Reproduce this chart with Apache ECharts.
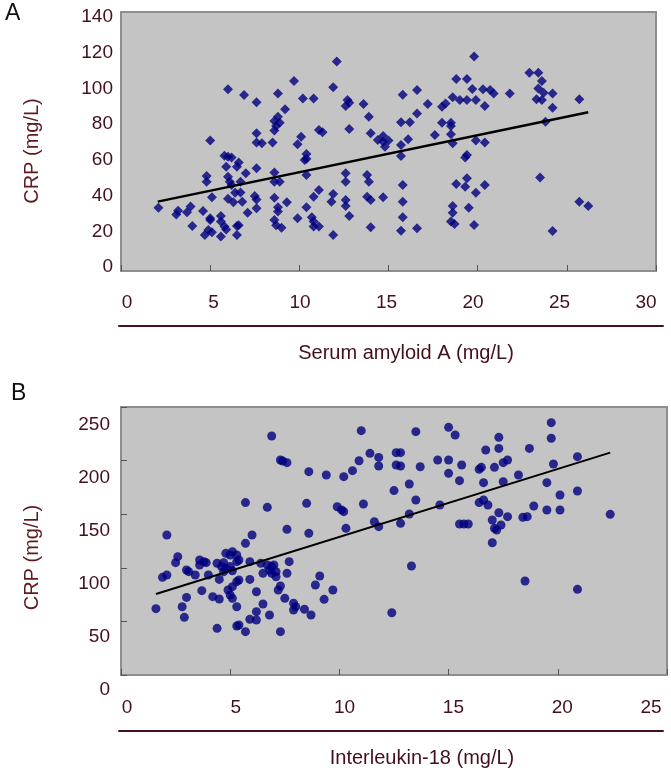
<!DOCTYPE html>
<html>
<head>
<meta charset="utf-8">
<script src="https://cdn.jsdelivr.net/npm/echarts@6/dist/echarts.min.js"></script>
<style>
html,body{margin:0;padding:0;background:#fff;}
#chart{width:671px;height:774px;}
</style>
</head>
<body>
<div id="chart"></div>
<script>
// ---------- Panel A: Serum amyloid A vs CRP ----------
const samplesA = [
[2.1,34.2],[3.1,30.6],[3.2,32.6],[3.7,31.7],[3.9,34.8],[4.0,24.3],[4.6,32.4],[4.8,51.4],[4.8,48.3],[5.0,70.5],
[4.7,19.5],[4.9,22.2],[5.1,20.9],[5.0,27.6],[5.0,28.5],[5.1,39.8],[5.6,29.7],[5.6,26.7],[5.8,24.0],[5.9,22.5],
[5.6,18.6],[5.8,62.3],[6.0,61.8],[6.2,61.4],[6.0,98.2],[5.9,56.4],[6.0,51.0],[6.1,48.3],[6.2,46.5],[6.0,39.1],
[6.3,37.1],[6.4,42.3],[6.5,56.4],[6.6,58.6],[6.5,24.3],[6.5,19.5],[6.6,24.7],[6.7,48.3],[6.7,42.5],[6.8,37.5],
[6.9,95.1],[7.0,52.8],[7.1,31.5],[7.5,40.5],[7.6,38.7],[7.6,91.2],[7.6,74.4],[7.6,69.4],[7.9,69.0],[7.6,55.5],
[7.6,33.9],[8.5,69.4],[8.6,81.1],[8.7,78.4],[8.8,83.4],[8.9,80.2],[9.2,87.4],[8.6,75.9],[8.8,96.0],[8.6,53.2],
[8.6,48.3],[8.9,48.3],[8.6,39.6],[8.8,34.4],[8.8,32.1],[8.6,27.6],[8.7,24.7],[9.0,23.4],[9.3,37.1],[9.7,102.7],
[9.9,68.5],[10.1,72.6],[9.9,28.5],[10.2,93.3],[10.4,63.2],[10.3,60.0],[10.4,60.7],[10.4,51.9],[10.4,34.4],[10.7,29.0],
[10.8,26.7],[10.8,24.0],[11.1,24.0],[10.8,40.2],[11.1,43.8],[10.8,93.3],[11.1,76.2],[11.3,75.0],[11.8,37.5],[11.9,41.6],
[11.9,99.3],[11.9,19.5],[12.1,113.2],
[12.7,92.4],[12.8,91.0],[12.6,89.2],[12.8,76.8],[13.6,90.3],[13.9,83.4],[14.0,74.4],[14.4,70.8],[14.7,73.0],[14.8,67.2],
[15.0,70.5],[14.7,69.9],[15.7,62.2],[15.7,68.1],[16.1,71.2],[15.7,80.4],[16.2,80.4],[16.6,85.2],[15.8,95.3],[16.6,97.8],
[17.2,90.3],[17.6,73.5],[18.0,88.8],[18.2,90.6],[18.0,80.2],[18.5,80.2],[18.5,78.4],[18.5,73.9],[18.6,69.0],[18.6,93.9],
[18.8,103.8],[19.0,92.4],[19.4,103.8],[19.4,92.4],[19.7,98.4],[19.8,115.9],[19.9,92.4],[20.4,89.2],[20.3,98.2],[20.7,97.8],
[20.9,96.0],[19.9,70.5],[20.4,69.4],[19.3,61.4],[19.4,62.7],[21.8,96.0],[18.8,47.0],[19.3,45.6],[19.4,50.1],[20.4,46.5],
[19.9,42.3],[18.6,35.1],[18.6,31.5],[19.5,34.2],[18.5,26.7],[18.7,25.4],[19.8,24.9],[12.6,52.8],[12.6,48.3],[12.6,38.4],
[12.6,35.1],[12.8,29.7],[13.8,51.9],[13.9,48.3],[13.8,40.2],[14.0,38.4],[14.0,23.6],[14.7,39.8],[15.8,46.5],[15.8,37.5],
[15.8,29.0],[15.7,21.8],[16.6,23.1],[22.9,107.2],[23.4,107.2],[23.6,102.7],[23.4,98.7],[23.3,92.8],[23.6,92.4],[23.7,96.4],
[24.2,96.0],[24.2,88.3],[23.8,80.7],[25.7,92.8],[23.5,50.6],[25.7,37.5],[26.2,35.1],[24.2,21.6]
];
const fitA = [[2.06,37.5],[26.2,85.8]];
const xTicksA = [0, 30, 5];     // min, max, step
const yTicksA = [0, 140, 20];

// ---------- Panel B: Interleukin-18 vs CRP ----------
const samplesB = [
[1.6,61.9],[1.9,91.1],[2.1,93.3],[2.1,130.6],[2.5,104.8],[2.6,110.4],[2.8,63.7],[2.9,53.8],[3.0,72.4],[3.0,97.9],
[3.1,96.4],[3.4,93.3],[3.6,107.3],[3.6,102.6],[3.8,105.7],[3.7,78.7],[3.9,104.8],[4.0,93.3],[4.2,73.1],[4.4,43.5],
[4.4,104.2],[4.5,89.2],[4.6,101.1],[4.7,104.8],[4.7,96.4],[4.5,70.9],[4.8,113.5],[5.0,111.9],[5.1,115.0],[5.3,111.9],
[5.3,105.7],[5.4,107.3],[4.8,99.5],[5.0,101.1],[5.1,97.3],[4.9,79.3],[5.0,74.6],[5.1,71.5],[5.1,82.4],[5.3,63.7],
[5.3,87.1],[5.4,88.6],[5.3,45.7],[5.4,46.6],[5.7,40.4],[5.7,122.8],[5.7,160.8],[5.9,105.7],[5.9,89.2],[6.0,130.6],
[5.9,51.9],[6.2,77.7],[6.2,59.1],[6.2,51.3],[6.4,104.2],[6.5,94.8],[6.5,66.2],[6.7,156.4],[6.8,56.0],[6.7,102.6],
[6.8,97.9],[6.9,101.1],[6.9,94.8],[7.0,102.6],[7.1,96.4],[7.1,91.7],[6.9,222.9],[7.3,40.4],[7.3,200.6],[7.4,199.6],
[7.6,198.1],[7.3,83.0],[7.2,79.3],[7.5,71.5],[7.6,135.9],[7.6,94.8],[7.7,105.7],[7.9,66.9],[7.9,60.6],[8.0,63.7],
[8.4,61.3],[8.5,160.1],[8.6,189.7],[8.6,132.2],[8.7,56.0],[8.9,84.0],[9.1,92.4],[9.3,70.6],[9.4,186.6],[9.7,79.3],
[10.2,185.0],[10.6,190.6],[10.9,199.9],[11.0,227.9],[11.4,206.8],[11.8,203.0],[11.8,195.0],[12.5,172.0],[12.6,207.4],[12.8,207.4],
[12.6,195.9],[12.8,195.0],[13.5,227.0],[13.7,194.3],[13.2,178.2],[13.5,163.2],[14.5,200.6],[15.0,200.6],[15.0,188.1],[15.0,231.0],
[15.3,223.9],[15.5,181.3],[15.6,195.9],[14.6,158.6],[16.4,191.9],[16.5,193.7],[16.7,209.9],[16.6,179.4],[17.1,193.7],[17.3,221.7],
[17.3,211.4],[17.5,198.1],[17.7,200.6],[17.5,180.3],[18.2,186.6],[18.7,211.4],[19.5,179.4],[19.7,235.4],[19.7,220.8],[19.8,196.8],
[20.9,203.7],[20.1,167.9],[20.9,171.6],[22.4,149.9],[16.4,160.8],[16.6,163.2],[16.8,158.6],[17.3,151.4],[17.7,147.7],[17.0,144.6],
[17.1,136.8],[17.4,139.9],[17.2,135.3],[17.0,123.4],[15.5,140.9],[15.7,140.9],[15.9,140.9],[18.4,147.1],[18.6,147.7],[18.9,157.6],
[19.5,153.9],[20.1,153.9],[11.6,143.0],[11.8,138.4],[12.8,141.5],[13.2,150.2],[11.1,159.5],[9.9,157.0],[10.1,154.0],[10.2,152.4],
[10.3,136.8],[13.3,101.7],[18.5,87.7],[20.9,79.9],[12.4,58.1]
];
const fitB = [[1.6,75.6],[22.4,207.4]];
const xTicksB = [0, 25, 5];
const yTicksB = [0, 250, 50];

const panelLetters = ['A', 'B'];
const xTitles = ['Serum amyloid A (mg/L)', 'Interleukin-18 (mg/L)'];
const yTitle = 'CRP (mg/L)';

// ---------- styling ----------
const FONT = '"Liberation Sans", Arial, sans-serif';
const LABEL = '#44101a';
const TITLEC = '#5e1820';
const PLOT_BG = '#c4c4c4';
const PLOT_BORDER = '#8e8e8e';
const MARK = '#00007e';

const chart = echarts.init(document.getElementById('chart'), null, {renderer: 'canvas'});

const hiddenX = (g) => ({type: 'value', gridIndex: g, show: false, min: 0, max: 1});
const hiddenY = (g) => ({type: 'value', gridIndex: g, show: false, min: 0, max: 1});

const plotX = (g, t) => ({
  type: 'value', gridIndex: g, min: t[0], max: t[1], interval: t[2],
  axisLine: {show: true, lineStyle: {color: PLOT_BORDER, width: 2}},
  axisTick: {show: true, inside: true, length: 6, lineStyle: {color: '#555', width: 1}},
  axisLabel: {show: false}, splitLine: {show: false}
});
const plotY = (g, t, ticks) => ({
  type: 'value', gridIndex: g, min: t[0], max: t[1], interval: t[2],
  axisLine: {show: true, lineStyle: {color: PLOT_BORDER, width: 2}},
  axisTick: {show: ticks, inside: true, length: 6, lineStyle: {color: '#555', width: 1}},
  axisLabel: {show: false}, splitLine: {show: false}
});
const labelX = (g, t, formatter, rich) => ({
  type: 'value', gridIndex: g, position: 'top', min: t[0], max: t[1], interval: t[2],
  axisLine: {show: false}, axisTick: {show: false}, splitLine: {show: false},
  axisLabel: {show: true, margin: 14, fontSize: 19, color: LABEL, fontFamily: FONT,
    formatter: formatter, rich: rich}
});
const labelY = (g, t, margin, pad) => ({
  type: 'value', gridIndex: g, min: t[0], max: t[1], interval: t[2],
  axisLine: {show: false}, axisTick: {show: false}, splitLine: {show: false},
  axisLabel: {show: true, margin: margin, fontSize: 19, color: LABEL, fontFamily: FONT},
  name: yTitle, nameLocation: 'middle', nameRotate: 90, nameGap: 79,
  nameTextStyle: {fontSize: 20, color: TITLEC, fontFamily: FONT, padding: pad}
});
const ruleX = (g, title, shift) => ({
  type: 'value', gridIndex: g, position: 'bottom', min: 0, max: 1,
  axisLine: {show: true, lineStyle: {color: LABEL, width: 2}},
  axisTick: {show: false}, axisLabel: {show: false}, splitLine: {show: false},
  name: title, nameLocation: 'middle', nameGap: 17,
  nameTextStyle: {fontSize: 20, color: LABEL, fontFamily: FONT, padding: [0, 0, 0, shift]}
});

const option = {
  animation: false,
  backgroundColor: '#ffffff',
  title: [
    {text: panelLetters[0], left: 0, top: -3, textStyle: {fontSize: 23, fontWeight: 'normal', color: '#111', fontFamily: FONT}},
    {text: panelLetters[1], left: 6, top: 377, textStyle: {fontSize: 23, fontWeight: 'normal', color: '#111', fontFamily: FONT}}
  ],
  grid: [
    {left: 121, top: 12, width: 535, height: 259, show: true, backgroundColor: PLOT_BG, borderColor: PLOT_BORDER, borderWidth: 2},
    {left: 121, top: 17, width: 535, height: 250},
    {left: 127, top: 326, width: 519, height: 10},
    {left: 119, top: 316, width: 544, height: 10},
    {left: 121, top: 407, width: 546, height: 268, show: true, backgroundColor: PLOT_BG, borderColor: PLOT_BORDER, borderWidth: 2},
    {left: 121, top: 425, width: 546, height: 265},
    {left: 127, top: 731, width: 550, height: 10},
    {left: 119, top: 721, width: 544, height: 10}
  ],
  xAxis: [
    plotX(0, xTicksA),
    hiddenX(1),
    labelX(2, xTicksA),
    ruleX(3, xTitles[0], 30),
    plotX(4, xTicksB),
    hiddenX(5),
    labelX(6, xTicksB, function (v) { return v === xTicksB[1] ? '{s|' + v + '}' : String(v); },
      {s: {padding: [0, 40, 0, 0], fontSize: 19, color: LABEL, fontFamily: FONT}}),
    ruleX(7, xTitles[1], 62)
  ],
  yAxis: [
    plotY(0, yTicksA, false),
    labelY(1, yTicksA, 8, [0, 18, 0, 0]),
    hiddenY(2),
    hiddenY(3),
    plotY(4, yTicksB, true),
    labelY(5, yTicksB, 11, [0, 0, 0, 0]),
    hiddenY(6),
    hiddenY(7)
  ],
  series: [
    {type: 'scatter', xAxisIndex: 0, yAxisIndex: 0, data: samplesA, symbol: 'diamond', symbolSize: 10,
      itemStyle: {color: MARK}, silent: true},
    {type: 'line', xAxisIndex: 0, yAxisIndex: 0, data: fitA, symbol: 'none',
      lineStyle: {color: '#000', width: 2.5}, silent: true},
    {type: 'scatter', xAxisIndex: 4, yAxisIndex: 4, data: samplesB, symbol: 'circle', symbolSize: 9,
      itemStyle: {color: MARK}, silent: true},
    {type: 'line', xAxisIndex: 4, yAxisIndex: 4, data: fitB, symbol: 'none',
      lineStyle: {color: '#000', width: 2}, silent: true}
  ]
};
chart.setOption(option);
</script>
</body>
</html>
